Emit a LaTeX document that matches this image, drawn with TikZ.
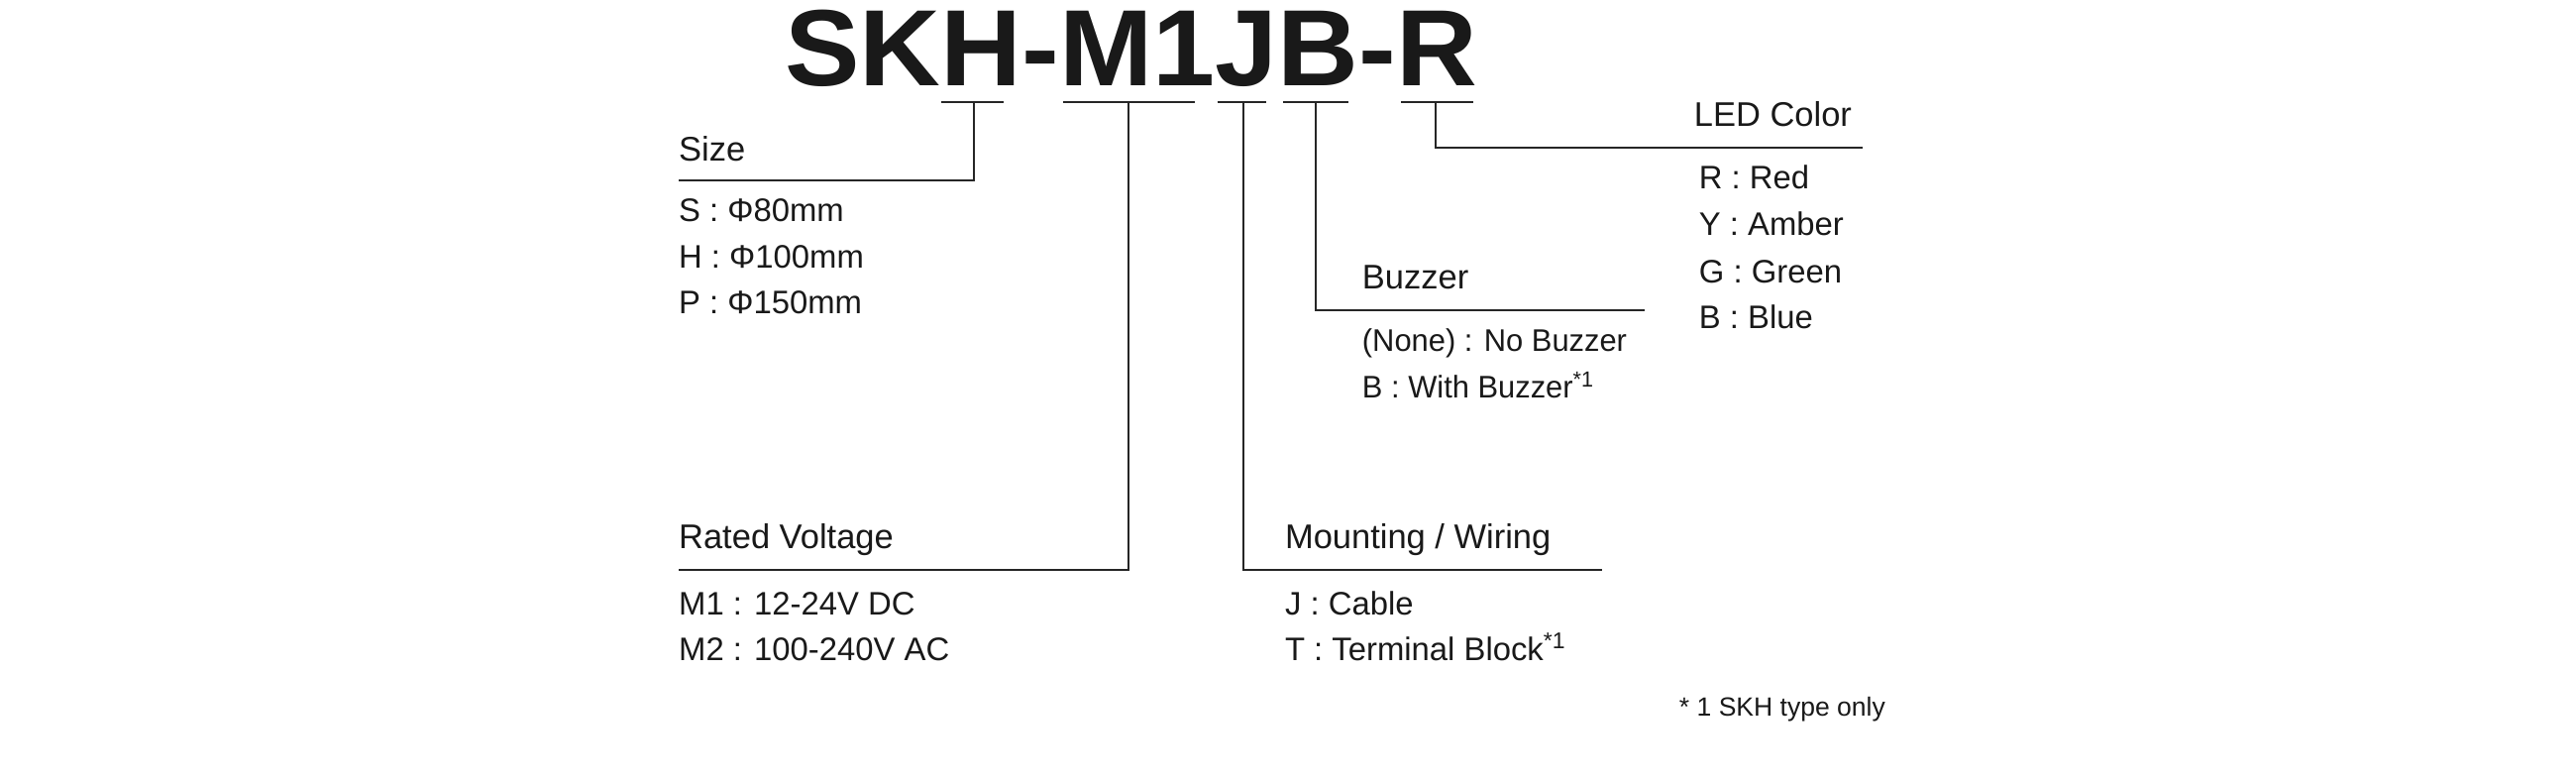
\documentclass[tikz,border=0pt]{standalone}
\usepackage{fontspec}
\setmainfont{Liberation Sans}
\begin{document}
\begin{tikzpicture}[x=1pt,y=-1pt,
  ln/.style={line width=1.2pt,draw=black!85},
  hd/.style={anchor=base west,inner sep=0,font=\fontsize{20.8}{24}\selectfont,text=black!90},
  it/.style={anchor=base west,inner sep=0,font=\fontsize{19.8}{23}\selectfont,text=black!90},
  sm/.style={anchor=base west,inner sep=0,font=\fontsize{19}{22}\selectfont,text=black!90,xscale=0.98}]
\useasboundingbox (0,0) rectangle (1568,476.4);
\node[anchor=base,inner sep=0,font=\fontsize{66}{70}\selectfont\bfseries,text=black!90,xscale=1.035] (title) at (688.5,52) {SKH-M1JB-R};
% underlines
\coordinate (s1) at (573,62); \coordinate (s2) at (611,62);
\coordinate (m1) at (647,62); \coordinate (m2) at (727,62);
\coordinate (j1) at (741,62); \coordinate (j2) at (771,62);
\coordinate (b1) at (781,62); \coordinate (b2) at (821,62);
\coordinate (r1) at (853,62); \coordinate (r2) at (897,62);
\draw[ln] (s1)--(s2) (m1)--(m2) (j1)--(j2) (b1)--(b2) (r1)--(r2);
\coordinate (sa) at (593,62); \coordinate (sb) at (593,110); \coordinate (sc) at (413,110);
\coordinate (ma) at (687,62); \coordinate (mb) at (687,347); \coordinate (mc) at (413,347);
\coordinate (ja) at (757,62); \coordinate (jb) at (757,347); \coordinate (jc) at (975,347);
\coordinate (ba) at (801,62); \coordinate (bb) at (801,189); \coordinate (bc) at (1001,189);
\coordinate (ra) at (874,62); \coordinate (rb) at (874,90); \coordinate (rc) at (1134,90);
\draw[ln] (sa)--(sb)--(sc);
\draw[ln] (ma)--(mb)--(mc);
\draw[ln] (ja)--(jb)--(jc);
\draw[ln] (ba)--(bb)--(bc);
\draw[ln] (ra)--(rb)--(rc);
% Size
\node[hd] (size) at (413,98) {Size};
\node[it] (s80) at (413,135) {S : Φ80mm};
\node[it] (s100) at (413,163) {H : Φ100mm};
\node[it] (s150) at (413,191) {P : Φ150mm};
% LED
\node[hd] (led) at (1031,77) {LED Color};
\node[it] (lr) at (1034,115) {R : Red};
\node[it] (ly) at (1034,143) {Y : Amber};
\node[it] (lg) at (1034,172) {G : Green};
\node[it] (lb) at (1034,200) {B : Blue};
% Buzzer
\node[hd] (buz) at (829,176) {Buzzer};
\node[sm] (bn) at (829,214) {(None) : No Buzzer};
\node[sm] (bw) at (829,242) {B : With Buzzer\textsuperscript{*1}};
% Rated
\node[hd] (rv) at (413,334) {Rated Voltage};
\node[it] (v1) at (413,374) {M1 : 12-24V DC};
\node[it] (v2) at (413,402) {M2 : 100-240V AC};
% Mounting
\node[hd] (mw) at (782,334) {Mounting / Wiring};
\node[it] (mj) at (782,374) {J : Cable};
\node[it] (mt) at (782,402) {T : Terminal Block\textsuperscript{*1}};
% footnote
\node[anchor=base west,inner sep=0,font=\fontsize{16}{19}\selectfont,text=black!90] (fn) at (1022,436) {* 1 SKH type only};
\end{tikzpicture}
\end{document}
